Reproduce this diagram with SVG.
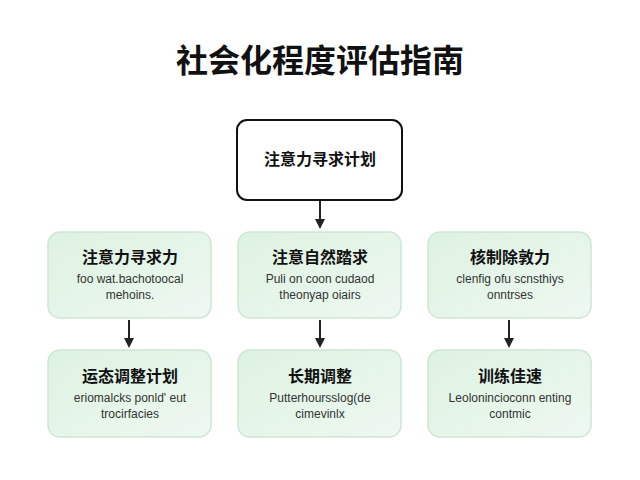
<svg xmlns="http://www.w3.org/2000/svg" width="640" height="480" viewBox="0 0 640 480">
<defs>
<linearGradient id="g" x1="0" y1="0" x2="1" y2="1"><stop offset="0" stop-color="#ddf2e2"/><stop offset="1" stop-color="#eef8f0"/></linearGradient>
<marker id="a" markerWidth="10" markerHeight="10" refX="8" refY="5" orient="auto" markerUnits="userSpaceOnUse"><path d="M0,0 L10,5 L0,10 z" fill="#222"/></marker>
<style>
.t{font-family:"Noto Sans CJK SC","Noto Sans",sans-serif;font-weight:bold;fill:#111;text-anchor:middle}
.s{font-family:"Liberation Sans","Noto Sans",sans-serif;font-size:12px;fill:#333;text-anchor:middle}
.b{fill:url(#g);stroke:#cfe5d5;stroke-width:1.5}
.c{stroke:#222;stroke-width:2;fill:none;marker-end:url(#a)}
</style>
</defs>
<rect width="640" height="480" fill="#fff"/>
<text x="320" y="72" class="t" font-size="32">社会化程度评估指南</text>
<g id="top"><rect x="237" y="120" width="165" height="80" rx="10" fill="#fff" stroke="#111" stroke-width="2"/><text x="320" y="165" class="t" font-size="16">注意力寻求计划</text></g>
<g id="n1"><rect class="b" x="48" y="232" width="163" height="86" rx="12"/><text x="130" y="263" class="t" font-size="16">注意力寻求力</text><text x="130" y="283" class="s">foo wat.bachotoocal</text><text x="130" y="299" class="s">mehoins.</text></g>
<g id="n2"><rect class="b" x="238" y="232" width="163" height="86" rx="12"/><text x="320" y="263" class="t" font-size="16">注意自然踏求</text><text x="320" y="283" class="s">Puli on coon cudaod</text><text x="320" y="299" class="s">theonyap oiairs</text></g>
<g id="n3"><rect class="b" x="428" y="232" width="163" height="86" rx="12"/><text x="510" y="263" class="t" font-size="16">核制除敦力</text><text x="510" y="283" class="s">clenfig ofu scnsthiys</text><text x="510" y="299" class="s">onntrses</text></g>
<g id="n4"><rect class="b" x="48" y="350" width="163" height="87" rx="12"/><text x="130" y="382" class="t" font-size="16">运态调整计划</text><text x="130" y="402" class="s">eriomalcks ponld' eut</text><text x="130" y="418" class="s">trocirfacies</text></g>
<g id="n5"><rect class="b" x="238" y="350" width="163" height="87" rx="12"/><text x="320" y="382" class="t" font-size="16">长期调整</text><text x="320" y="402" class="s">Putterhoursslog(de</text><text x="320" y="418" class="s">cimevinlx</text></g>
<g id="n6"><rect class="b" x="428" y="350" width="163" height="87" rx="12"/><text x="510" y="382" class="t" font-size="16">训练佳速</text><text x="510" y="402" class="s">Leolonincioconn enting</text><text x="510" y="418" class="s">contmic</text></g>
<g id="connectors">
<line class="c" x1="320" y1="201" x2="320" y2="227"/>
<line class="c" x1="129" y1="320" x2="129" y2="346"/>
<line class="c" x1="320" y1="320" x2="320" y2="346"/>
<line class="c" x1="509" y1="320" x2="509" y2="346"/>
</g>
</svg>
